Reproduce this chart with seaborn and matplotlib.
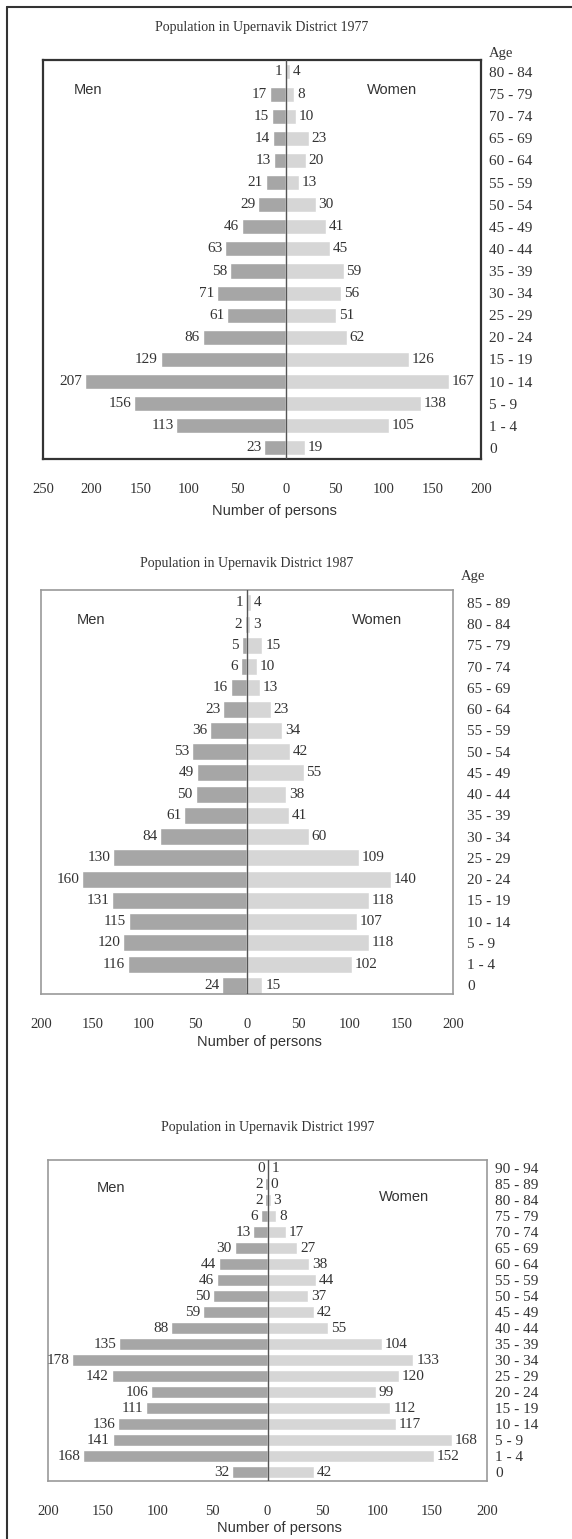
"""
Population pyramids for Upernavik District, 1977 / 1987 / 1997.
Three stacked panels, men to the left, women to the right.
"""

import matplotlib.pyplot as plt
import seaborn as sns
from matplotlib.lines import Line2D

# ---- data (youngest group first) -------------------------------------------
AGES_1977 = ["0", "1 - 4", "5 - 9", "10 - 14", "15 - 19", "20 - 24", "25 - 29",
             "30 - 34", "35 - 39", "40 - 44", "45 - 49", "50 - 54", "55 - 59",
             "60 - 64", "65 - 69", "70 - 74", "75 - 79", "80 - 84"]
MEN_1977 = [23, 113, 156, 207, 129, 86, 61, 71, 58, 63, 46, 29, 21, 13, 14, 15, 17, 1]
WOMEN_1977 = [19, 105, 138, 167, 126, 62, 51, 56, 59, 45, 41, 30, 13, 20, 23, 10, 8, 4]

AGES_1987 = AGES_1977 + ["85 - 89"]
MEN_1987 = [24, 116, 120, 115, 131, 160, 130, 84, 61, 50, 49, 53, 36, 23, 16, 6, 5, 2, 1]
WOMEN_1987 = [15, 102, 118, 107, 118, 140, 109, 60, 41, 38, 55, 42, 34, 23, 13, 10, 15, 3, 4]

AGES_1997 = AGES_1987 + ["90 - 94"]
MEN_1997 = [32, 168, 141, 136, 111, 106, 142, 178, 135, 88, 59, 50, 46, 44, 30, 13, 6, 2, 2, 0]
WOMEN_1997 = [42, 152, 168, 117, 112, 99, 120, 133, 104, 55, 42, 37, 44, 38, 27, 17, 8, 3, 0, 1]

TICKS_1977 = [-250, -200, -150, -100, -50, 0, 50, 100, 150, 200]
TICKS_1987 = [-200, -150, -100, -50, 0, 50, 100, 150, 200]
TICKS_1997 = TICKS_1987

# ---- layout / style ----------------------------------------------------------
W, H = 572, 1539
MEN_COLOR = "#a6a6a6"
WOMEN_COLOR = "#d6d6d6"
SERIF = "Liberation Serif"
SANS = "Liberation Sans"

PANELS = [
    dict(year=1977, ages=AGES_1977, men=MEN_1977, women=WOMEN_1977, ticks=TICKS_1977,
         box=(43, 60, 481, 459), ylim_pad=(0.5, 0.54), bar=0.68, title_y=27,
         age_header_y=53, age_pad=6, men_xy=(0.07, 0.925), women_xy=(0.74, 0.925),
         frame="#333333", frame_lw=1.6, xlabel_y=511),
    dict(year=1987, ages=AGES_1987, men=MEN_1987, women=WOMEN_1987, ticks=TICKS_1987,
         box=(41, 590, 453, 994), ylim_pad=(0.4, 0.6), bar=0.8, title_y=563,
         age_header_y=577, age_pad=10, men_xy=(0.087, 0.926), women_xy=(0.755, 0.926),
         frame="#9a9a9a", frame_lw=1.2, xlabel_y=1042),
    dict(year=1997, ages=AGES_1997, men=MEN_1997, women=WOMEN_1997, ticks=TICKS_1997,
         box=(48, 1160, 487, 1481), ylim_pad=(0.56, 0.5), bar=0.7, title_y=1128,
         age_header_y=None, age_pad=6, men_xy=(0.11, 0.913), women_xy=(0.754, 0.885),
         frame="#9a9a9a", frame_lw=1.2, xlabel_y=1528),
]


def px_axes(fig, left, top, right, bottom):
    return fig.add_axes([left / W, 1 - bottom / H, (right - left) / W, (bottom - top) / H])


def draw_pyramid(fig, p):
    left, top, right, bottom = p["box"]
    ax = px_axes(fig, left, top, right, bottom)
    order = p["ages"][::-1]

    sns.barplot(x=[-m for m in p["men"]], y=p["ages"], order=order, orient="h",
                color=MEN_COLOR, saturation=1, width=p["bar"], errorbar=None, ax=ax)
    sns.barplot(x=p["women"], y=p["ages"], order=order, orient="h",
                color=WOMEN_COLOR, saturation=1, width=p["bar"], errorbar=None, ax=ax)

    for bar in ax.containers[0]:
        end = bar.get_x() + bar.get_width()
        ax.annotate(f"{abs(bar.get_width()):.0f}", (end, bar.get_y() + bar.get_height() / 2),
                    xytext=(-2, 0), textcoords="offset points", ha="right", va="center",
                    fontsize=11, family=SERIF, color="#333333")
    for bar in ax.containers[1]:
        end = bar.get_x() + bar.get_width()
        ax.annotate(f"{bar.get_width():.0f}", (end, bar.get_y() + bar.get_height() / 2),
                    xytext=(2, 0), textcoords="offset points", ha="left", va="center",
                    fontsize=11, family=SERIF, color="#333333")

    ax.axvline(0, color="#555555", lw=1.0, zorder=5)

    n = len(p["ages"])
    ax.set_ylim(n - 1 + p["ylim_pad"][0], -p["ylim_pad"][1])
    ax.set_xlim(p["ticks"][0], 200)
    ax.set_xticks(p["ticks"])
    ax.set_xticklabels([str(abs(t)) for t in p["ticks"]], family=SERIF)
    ax.tick_params(axis="x", length=3, color="#aaaaaa", pad=14, labelsize=10.5,
                   labelcolor="#333333")

    ax.yaxis.tick_right()
    ax.tick_params(axis="y", length=0, pad=p["age_pad"], labelsize=11, labelcolor="#333333")
    for lab in ax.get_yticklabels():
        lab.set_family(SERIF)
    ax.set_ylabel("")
    ax.set_xlabel("")

    for spine in ax.spines.values():
        spine.set_visible(True)
        spine.set_color(p["frame"])
        spine.set_linewidth(p["frame_lw"])

    ax.text(*p["men_xy"], "Men", transform=ax.transAxes, family=SANS, fontsize=10.5,
            ha="left", va="center", color="#333333")
    ax.text(*p["women_xy"], "Women", transform=ax.transAxes, family=SANS, fontsize=10.5,
            ha="left", va="center", color="#333333")

    cx = (left + right) / 2
    fig.text(cx / W, 1 - p["title_y"] / H, f"Population in Upernavik District {p['year']}",
             ha="center", va="center", family=SERIF, fontsize=10, color="#333333")
    fig.text((cx + 12) / W, 1 - p["xlabel_y"] / H, "Number of persons",
             ha="center", va="center", family=SANS, fontsize=10.5, color="#333333")
    if p["age_header_y"] is not None:
        fig.text((right + 8) / W, 1 - p["age_header_y"] / H, "Age", ha="left", va="center",
                 family=SERIF, fontsize=10.5, color="#333333")


def main():
    sns.set_style("white")
    fig = plt.figure(figsize=(W / 100, H / 100), dpi=100)
    for p in PANELS:
        draw_pyramid(fig, p)

    # scan frame: left and top edges of the page
    fig.add_artist(Line2D([7 / W, 7 / W], [0, 1 - 7 / H], color="#333333", lw=1.5))
    fig.add_artist(Line2D([7 / W, 1], [1 - 7 / H, 1 - 7 / H], color="#333333", lw=1.5))

    fig.savefig("out.png", dpi=100)
    plt.close(fig)


if __name__ == "__main__":
    main()
